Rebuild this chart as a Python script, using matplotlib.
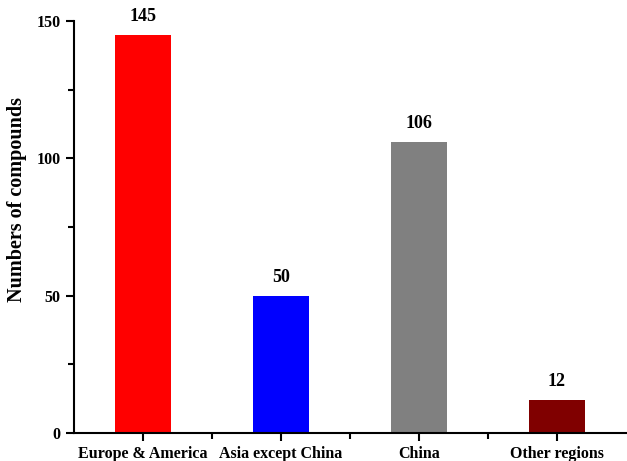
import matplotlib.pyplot as plt
from matplotlib.ticker import MultipleLocator, FixedLocator

# region counts
regions = ["Europe & America", "Asia except China", "China", "Other regions"]
counts = [145, 50, 106, 12]
colors = ["#ff0000", "#0000ff", "#808080", "#800000"]

plt.rcParams["font.family"] = ["Liberation Serif", "DejaVu Serif"]
plt.rcParams["font.weight"] = "bold"

fig = plt.figure(figsize=(6.27, 4.61), dpi=100)
ax = fig.add_axes([74 / 627, 28 / 461, 552 / 627, 412 / 461])

x = list(range(len(regions)))
bars = ax.bar(x, counts, width=0.4, color=colors)
for xi, v in zip(x, counts):
    ax.text(xi, v + 3.5, str(v), ha="center", va="bottom",
            fontsize=13, fontweight="bold")

ax.set_xlim(-0.5, 3.5)
ax.set_ylim(0, 150)
ax.set_xticks(x)
ax.set_xticklabels(regions, fontsize=11.5, fontweight="bold")
ax.xaxis.set_minor_locator(FixedLocator([0.5, 1.5, 2.5]))
ax.yaxis.set_major_locator(MultipleLocator(50))
ax.yaxis.set_minor_locator(MultipleLocator(25))
ax.set_ylabel("Numbers of compounds", fontsize=14.5, fontweight="bold")
ax.yaxis.set_label_coords(-0.085, 0.566)

for side in ["top", "right"]:
    ax.spines[side].set_visible(False)
for side in ["left", "bottom"]:
    ax.spines[side].set_linewidth(1.5)

ax.tick_params(axis="both", which="major", direction="out", length=6, width=1.5,
               labelsize=11.5)
ax.tick_params(axis="both", which="minor", direction="out", length=4, width=1.5)
for lbl in ax.get_yticklabels():
    lbl.set_fontweight("bold")

fig.savefig("out.png", dpi=100)
